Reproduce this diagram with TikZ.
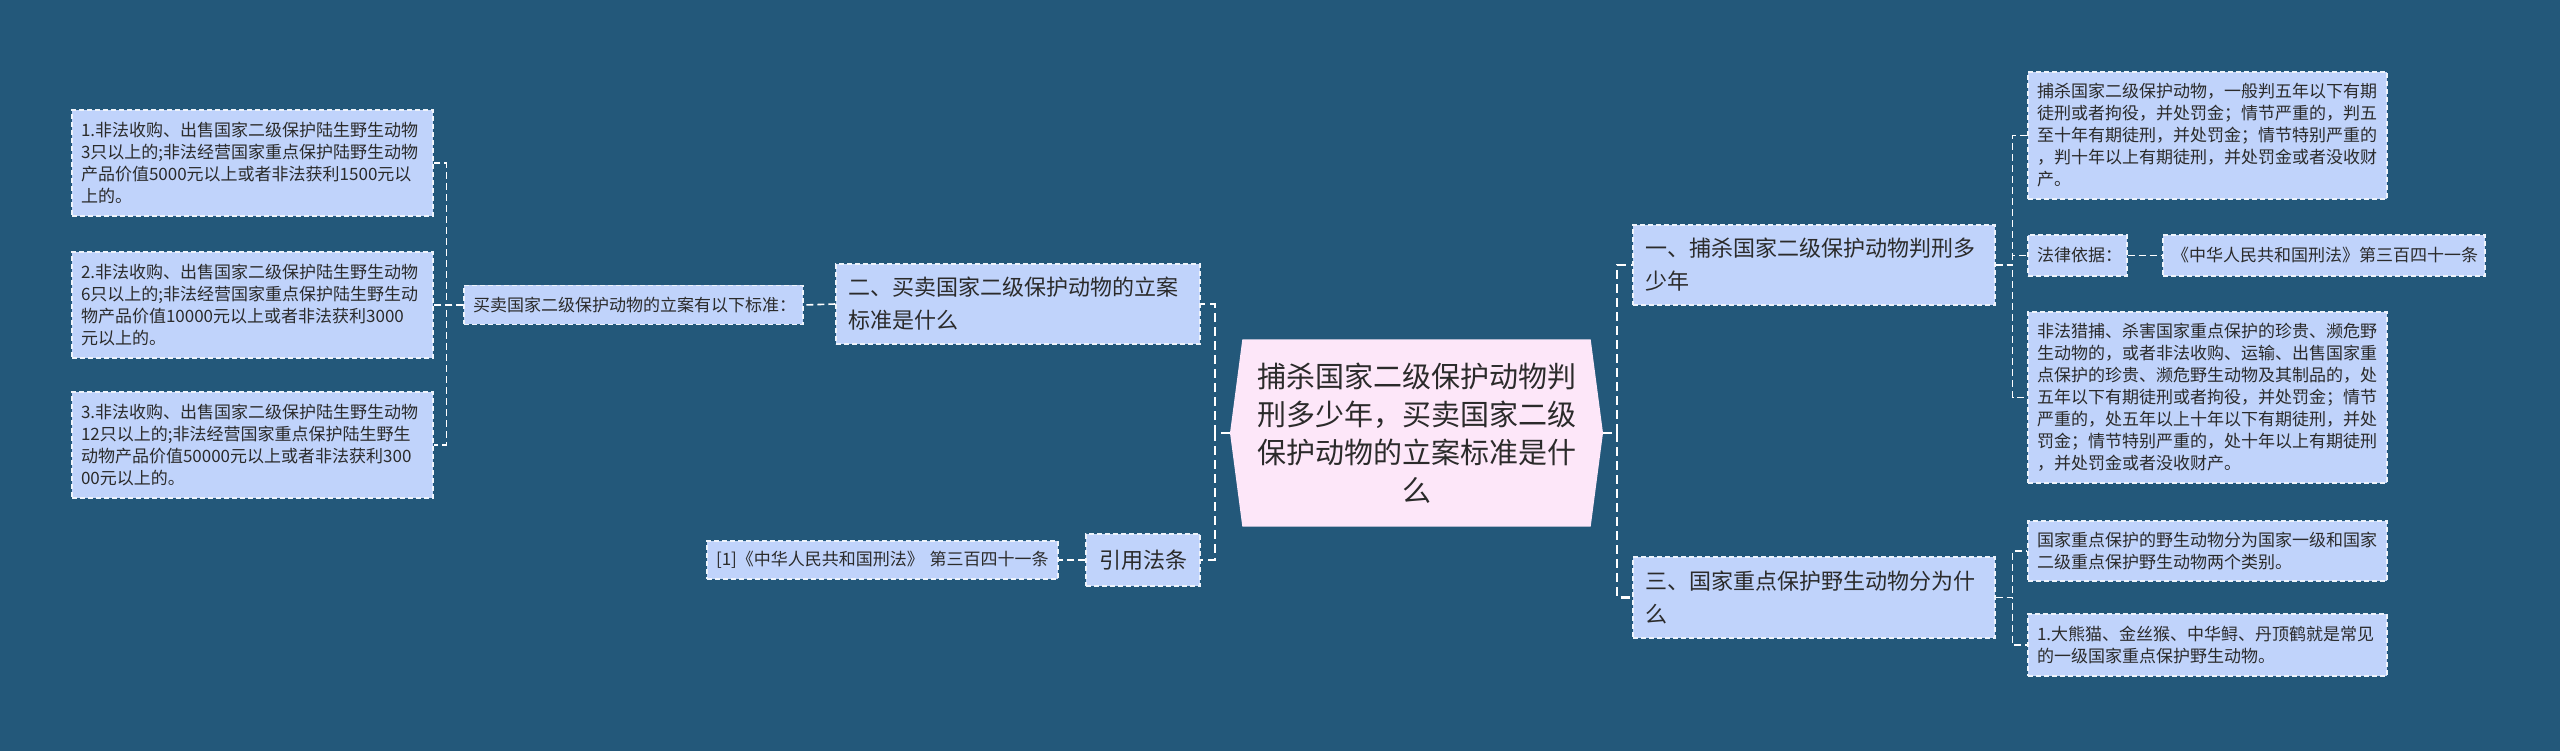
\documentclass[tikz,border=0pt]{standalone}
\usepackage{fontspec}
\setmainfont{Noto Sans CJK SC}
\usetikzlibrary{shapes.symbols}

\definecolor{bgblue}{HTML}{23587A}
\definecolor{boxfill}{HTML}{C0D3FB}
\definecolor{rootfill}{HTML}{FDE7F9}
\definecolor{txtgray}{HTML}{2B2B2B}
\definecolor{lineclr}{HTML}{EEF3FA}

\tikzset{
  leaf/.style={draw=lineclr, line width=1.2pt, dash pattern=on 5pt off 3pt, fill=boxfill, text=txtgray, align=left, inner xsep=9pt, inner ysep=0pt, font=\fontsize{17}{22}\selectfont},
  branch/.style={leaf, inner xsep=12pt, font=\fontsize{22}{33}\selectfont},
  rootbox/.style={signal, signal to=west and east, signal pointer angle=165, fill=rootfill, text=txtgray, align=center, inner sep=0pt, font=\fontsize{29}{38}\selectfont},
  link/.style={draw=white, line width=1.6pt, dash pattern=on 7pt off 4pt},
  mainlink/.style={link, line width=2.4pt, dash pattern=on 9pt off 5pt},
}

\begin{document}
\begin{tikzpicture}[x=1pt,y=-1pt]
  \fill[bgblue] (0,0) rectangle (2560,751);
  \useasboundingbox (0,0) rectangle (2560,751);

  % Central node
  \node[rootbox, minimum width=373, minimum height=187, text width=330] (root) at (1416.5,433) {捕杀国家二级保护动物判\\刑多少年，买卖国家二级\\保护动物的立案标准是什\\么};

  % Left side nodes
  \node[branch, text width=340, minimum height=80] (buy) at (1018,304) {二、买卖国家二级保护动物的立案\\标准是什么};
  \node[branch, text width=90, minimum height=52, align=center] (cite) at (1143,560) {引用法条};
  \node[leaf, text width=321, minimum height=39] (std) at (633.5,305) {买卖国家二级保护动物的立案有以下标准：};
  \node[leaf, text width=343, minimum height=106] (item1) at (252.5,163) {1.非法收购、出售国家二级保护陆生野生动物\\3只以上的;非法经营国家重点保护陆野生动物\\产品价值5000元以上或者非法获利1500元以\\上的。};
  \node[leaf, text width=343, minimum height=106] (item2) at (252.5,305) {2.非法收购、出售国家二级保护陆生野生动物\\6只以上的;非法经营国家重点保护陆生野生动\\物产品价值10000元以上或者非法获利3000\\元以上的。};
  \node[leaf, text width=343, minimum height=106] (item3) at (252.5,445) {3.非法收购、出售国家二级保护陆生野生动物\\12只以上的;非法经营国家重点保护陆生野生\\动物产品价值50000元以上或者非法获利300\\00元以上的。};
  \node[leaf, text width=333, minimum height=38] (law1) at (882.5,560) {[1]《中华人民共和国刑法》 第三百四十一条};

  % Right side nodes
  \node[branch, text width=338, minimum height=80] (kill) at (1814,265) {一、捕杀国家二级保护动物判刑多\\少年};
  \node[branch, text width=338, minimum height=81] (kind) at (1814,597.5) {三、国家重点保护野生动物分为什\\么};
  \node[leaf, text width=341, minimum height=127] (pen) at (2207.5,135.5) {捕杀国家二级保护动物，一般判五年以下有期\\徒刑或者拘役，并处罚金；情节严重的，判五\\至十年有期徒刑，并处罚金；情节特别严重的\\，判十年以上有期徒刑，并处罚金或者没收财\\产。};
  \node[leaf, text width=81, minimum height=41] (basis) at (2077.5,255.5) {法律依据：};
  \node[leaf, text width=304, minimum height=41] (basisref) at (2324,255.5) {《中华人民共和国刑法》第三百四十一条};
  \node[leaf, text width=341, minimum height=171] (hunt) at (2207.5,397.5) {非法猎捕、杀害国家重点保护的珍贵、濒危野\\生动物的，或者非法收购、运输、出售国家重\\点保护的珍贵、濒危野生动物及其制品的，处\\五年以下有期徒刑或者拘役，并处罚金；情节\\严重的，处五年以上十年以下有期徒刑，并处\\罚金；情节特别严重的，处十年以上有期徒刑\\，并处罚金或者没收财产。};
  \node[leaf, text width=341, minimum height=60] (grade) at (2207.5,551) {国家重点保护的野生动物分为国家一级和国家\\二级重点保护野生动物两个类别。};
  \node[leaf, text width=341, minimum height=62] (panda) at (2207.5,645) {1.大熊猫、金丝猴、中华鲟、丹顶鹤就是常见\\的一级国家重点保护野生动物。};

  % Connectors on the left
  \draw[mainlink] (root.west) -- ++(-15,0) |- (buy.east);
  \draw[mainlink] (root.west) -- ++(-15,0) |- (cite.east);
  \draw[link] (buy.west) -- (std.east);
  \foreach \n in {item1,item2,item3}
    \draw[link] (std.west) -- ++(-17,0) |- (\n.east);
  \draw[link] (cite.west) -- (law1.east);

  % Connectors on the right
  \draw[mainlink] (root.east) -- ++(14,0) |- (kill.west);
  \draw[mainlink] (root.east) -- ++(14,0) |- (kind.west);
  \foreach \n in {pen,basis,hunt}
    \draw[link] (kill.east) -- ++(17,0) |- (\n.west);
  \draw[link] (basis.east) -- (basisref.west);
  \foreach \n in {grade,panda}
    \draw[link] (kind.east) -- ++(17,0) |- (\n.west);
\end{tikzpicture}
\end{document}
